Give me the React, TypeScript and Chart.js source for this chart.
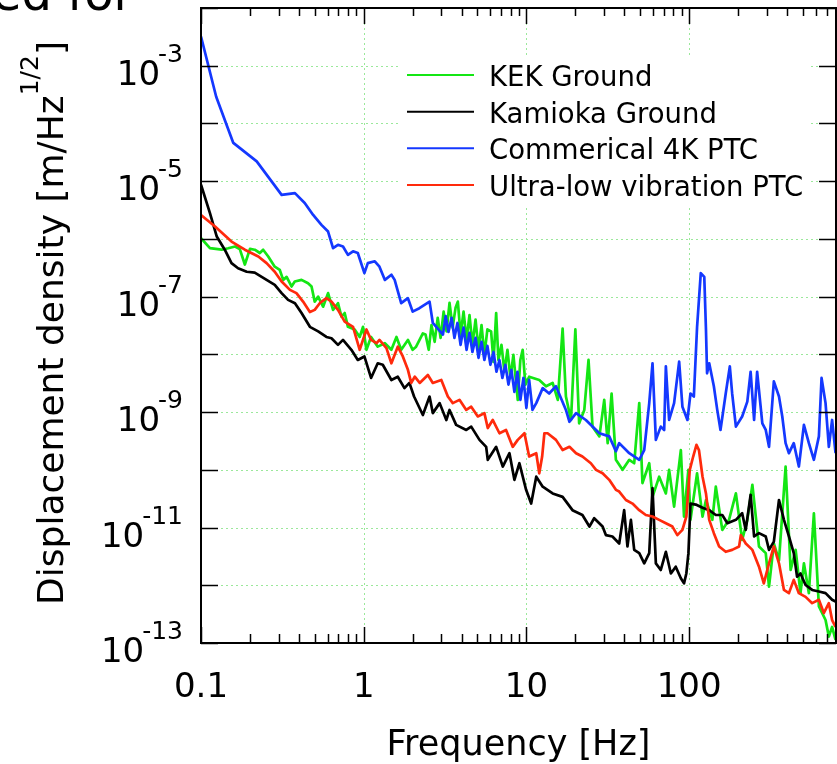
import { useEffect, useRef } from "react";
import { Chart, registerables } from "chart.js";

Chart.register(...registerables);

// ---------------- data ----------------
const seriesLabels = ["KEK Ground", "Kamioka Ground", "Commerical 4K PTC", "Ultra-low vibration PTC"];

const kekFreq = [0.1, 0.1135, 0.134, 0.147, 0.162, 0.173, 0.186, 0.2, 0.214, 0.23, 0.241, 0.259, 0.284, 0.305, 0.32, 0.336, 0.36, 0.377, 0.415, 0.455, 0.478, 0.5, 0.525, 0.563, 0.604, 0.648, 0.695, 0.73, 0.764, 0.8, 0.88, 0.945, 0.99, 1.04, 1.11, 1.22, 1.35, 1.48, 1.59, 1.7, 1.87, 2.0, 2.1, 2.31, 2.4, 2.51, 2.61, 2.73, 2.85, 2.97, 3.1, 3.23, 3.37, 3.52, 3.67, 3.79, 3.94, 4.11, 4.29, 4.47, 4.66, 4.87, 5.08, 5.3, 5.52, 5.76, 6.07, 6.28, 6.52, 6.73, 7.03, 7.33, 7.65, 7.98, 8.32, 8.85, 9.18, 9.49, 9.86, 10.4, 12.0, 13.2, 14.5, 15.6, 16.7, 17.5, 18.8, 20.0, 21.1, 22.7, 24.1, 25.5, 28.1, 30.1, 31.6, 33.4, 35.5, 39, 42.9, 46, 49.4, 51.7, 56.9, 59.6, 65.5, 72, 75.4, 80.9, 89, 93.1, 99, 102, 112, 121, 127, 139, 146, 160, 176, 194, 212, 228, 245, 269, 296, 310, 332, 357, 392, 421, 452, 484, 508, 545, 585, 628, 690, 723, 757, 795];
const kekDisp = [1.03e-6, 6.9e-7, 6.5e-7, 6.9e-7, 7.4e-7, 6.7e-7, 3.6e-7, 6.7e-7, 6.5e-7, 5.7e-7, 6.5e-7, 4.95e-7, 3.3e-7, 2.9e-7, 1.95e-7, 2.2e-7, 1.5e-7, 1.83e-7, 1.95e-7, 1.71e-7, 1.5e-7, 8.2e-8, 1.0e-7, 6.7e-8, 1.15e-7, 5.9e-8, 7.7e-8, 4.5e-8, 5.2e-8, 3.0e-8, 2.7e-8, 2.0e-8, 3.0e-8, 1.2e-8, 2.0e-8, 1.36e-8, 1.56e-8, 1.2e-8, 2.0e-8, 1.2e-8, 1.78e-8, 1.2e-8, 1.36e-8, 2.3e-8, 2.2e-8, 1.2e-8, 3.2e-8, 1.65e-8, 4.3e-8, 1.93e-8, 5.5e-8, 2.5e-8, 7.8e-8, 2.9e-8, 6.4e-8, 8.2e-8, 2.2e-8, 5.5e-8, 1.78e-8, 4.8e-8, 1.46e-8, 4.0e-8, 1.2e-8, 3.2e-8, 9.8e-9, 2.7e-8, 2.5e-8, 7.4e-9, 5.2e-8, 8.0e-9, 1.46e-8, 5.0e-9, 1.2e-8, 3.9e-9, 9.8e-9, 1.63e-9, 8.0e-9, 1.2e-8, 3.0e-9, 4.1e-9, 3.6e-9, 2.8e-9, 3.2e-9, 1.63e-9, 2.8e-8, 1.86e-9, 7.3e-10, 2.7e-8, 6.4e-10, 1.09e-9, 8.0e-9, 5.6e-10, 3.8e-10, 1.63e-9, 2.9e-10, 2.1e-9, 1.49e-10, 1.0e-10, 1.49e-10, 1.3e-10, 1.43e-9, 5.9e-11, 1.3e-10, 3.4e-11, 7.6e-11, 3.9e-11, 1.0e-10, 2.3e-11, 2.2e-10, 1.55e-11, 1.0e-10, 1.36e-11, 8.7e-11, 1.55e-11, 3.0e-11, 1.36e-11, 5.1e-11, 9.1e-12, 1.36e-11, 3.9e-11, 6.1e-12, 1.36e-11, 5.5e-11, 4.7e-12, 3.6e-12, 9.5e-13, 5.3e-12, 2.7e-12, 1.14e-10, 1.84e-12, 4.1e-12, 7.3e-13, 2.4e-12, 7.3e-13, 1.77e-11, 4.3e-13, 2.5e-13, 1.29e-13, 1.9e-13, 1.13e-13];

const kamFreq = [0.1, 0.1135, 0.125, 0.14, 0.154, 0.169, 0.191, 0.214, 0.236, 0.253, 0.284, 0.313, 0.343, 0.378, 0.415, 0.467, 0.525, 0.59, 0.634, 0.695, 0.746, 0.84, 0.92, 1.01, 1.11, 1.22, 1.31, 1.48, 1.62, 1.78, 1.91, 2.04, 2.31, 2.54, 2.66, 2.93, 3.22, 3.37, 3.7, 4.27, 4.58, 5.15, 5.66, 5.79, 6.52, 7.16, 7.87, 8.44, 9.06, 9.96, 10.7, 11.5, 12.6, 14.5, 16.7, 19.2, 22.1, 24.4, 26.1, 29.4, 30.8, 33.8, 37.2, 39.9, 41.8, 43.9, 46, 49.4, 53, 56.9, 59.6, 62.5, 67, 72, 77.3, 82.8, 89, 93.1, 96.2, 99.1, 102, 110, 121, 133, 146, 160, 172, 194, 212, 223, 239, 251, 269, 296, 310, 332, 357, 383, 411, 440, 461, 484, 520, 571, 628, 690, 757, 795];
const kamDisp = [8.7e-6, 2.8e-6, 1.1e-6, 6.5e-7, 3.8e-7, 3.1e-7, 2.7e-7, 2.6e-7, 2.2e-7, 1.95e-7, 1.6e-7, 1.15e-7, 8.8e-8, 7.7e-8, 5.2e-8, 3.0e-8, 2.5e-8, 2.0e-8, 1.9e-8, 1.46e-8, 1.78e-8, 1.2e-8, 8.0e-9, 9.2e-9, 3.9e-9, 7.0e-9, 6.6e-9, 3.6e-9, 4.1e-9, 2.6e-9, 3.2e-9, 1.86e-9, 8.9e-10, 1.86e-9, 9.6e-10, 1.43e-9, 7.3e-10, 1.09e-9, 6.0e-10, 4.9e-10, 5.6e-10, 3.3e-10, 2.5e-10, 1.49e-10, 2.5e-10, 1.14e-10, 1.94e-10, 6.7e-11, 1.3e-10, 4.5e-11, 2.6e-11, 7.6e-11, 5.1e-11, 3.9e-11, 3.4e-11, 2.0e-11, 1.65e-11, 1.04e-11, 1.45e-11, 1.04e-11, 7.4e-12, 7.0e-12, 5.3e-12, 2.0e-11, 4.7e-12, 1.36e-11, 4.1e-12, 3.6e-12, 2.4e-12, 3.6e-12, 4.8e-11, 2.4e-12, 1.84e-12, 3.8e-12, 1.6e-12, 2.1e-12, 1.32e-12, 1.08e-12, 1.6e-12, 3.6e-12, 2.6e-11, 2.5e-11, 2.2e-11, 2.0e-11, 1.65e-11, 1.65e-11, 1.19e-11, 1.36e-11, 1.77e-11, 9.1e-12, 3.7e-11, 7.0e-12, 8.0e-12, 7.0e-12, 4.1e-12, 5.7e-12, 3.0e-11, 1.36e-11, 7.0e-12, 3.6e-12, 1.41e-12, 1.6e-12, 1.01e-12, 8.3e-13, 7.8e-13, 7.3e-13, 5.6e-13, 5.2e-13];

const ptcFreq = [0.1, 0.124, 0.158, 0.22, 0.313, 0.378, 0.434, 0.489, 0.55, 0.604, 0.648, 0.695, 0.746, 0.8, 0.86, 0.92, 1.01, 1.06, 1.17, 1.25, 1.35, 1.48, 1.55, 1.7, 1.87, 2.0, 2.2, 2.54, 2.66, 3.07, 3.19, 3.32, 3.47, 3.61, 3.77, 3.94, 4.11, 4.29, 4.47, 4.66, 4.87, 5.08, 5.3, 5.52, 5.76, 6.01, 6.28, 6.55, 6.83, 7.12, 7.43, 7.76, 8.09, 8.44, 8.81, 9.19, 9.59, 10.0, 10.4, 10.9, 11.5, 12.6, 13.8, 15.2, 17.5, 18.4, 20.2, 23.2, 28.1, 32.3, 35.5, 37.2, 42.9, 49.4, 53, 56.9, 59.6, 62.5, 67, 70.3, 72, 75.4, 80.9, 86.9, 91, 97.7, 102, 107, 112, 118, 124, 127, 129, 133, 142, 149, 156, 168, 178, 184, 194, 212, 228, 239, 251, 262, 282, 296, 310, 332, 357, 374, 392, 411, 440, 473, 508, 545, 585, 628, 652, 690, 723, 757, 795];
const ptcDisp = [3.2e-3, 2.9e-4, 4.6e-5, 2.2e-5, 5.8e-6, 6.2e-6, 4.2e-6, 2.6e-6, 1.75e-6, 1.34e-6, 6.9e-7, 7.9e-7, 7.4e-7, 5.3e-7, 6.1e-7, 5.7e-7, 2.55e-7, 3.8e-7, 4.1e-7, 3.3e-7, 1.95e-7, 2.4e-7, 1.95e-7, 7.7e-8, 9.4e-8, 5.5e-8, 6.3e-8, 8.2e-8, 3.5e-8, 2.2e-8, 4.6e-8, 2.45e-8, 4.3e-8, 1.93e-8, 3.5e-8, 1.46e-8, 2.9e-8, 1.2e-8, 2.36e-8, 1.1e-8, 1.93e-8, 8.7e-9, 1.65e-8, 8.0e-9, 1.4e-8, 6.6e-9, 1.1e-8, 5.0e-9, 8.0e-9, 3.9e-9, 6.6e-9, 3.0e-9, 5.4e-9, 2.24e-9, 5.0e-9, 1.63e-9, 3.9e-9, 1.18e-9, 3.6e-9, 1.09e-9, 1.43e-9, 2.6e-9, 2.1e-9, 2.8e-9, 1.09e-9, 6.8e-10, 9.6e-10, 7.3e-10, 4.3e-10, 3.8e-10, 2.1e-10, 2.9e-10, 1.94e-10, 1.49e-10, 2.2e-10, 1.43e-9, 7.0e-9, 3.3e-10, 5.6e-10, 4.9e-10, 6.2e-9, 7.3e-10, 1.43e-9, 7.5e-9, 1.24e-9, 7.3e-10, 2.1e-9, 1.86e-9, 3.0e-8, 2.55e-7, 2.2e-7, 2.7e-8, 4.7e-9, 7.0e-9, 2.8e-9, 1.09e-9, 4.9e-10, 2.1e-9, 6.2e-9, 2.1e-9, 5.6e-10, 8.4e-10, 1.52e-9, 5.0e-9, 7.3e-10, 5.0e-9, 6.4e-10, 4.9e-10, 2.5e-10, 3.4e-9, 1.86e-9, 8.4e-10, 2.9e-10, 1.94e-10, 2.9e-10, 1.14e-10, 6.0e-10, 2.9e-10, 1.49e-10, 3.8e-10, 3.9e-9, 1.43e-9, 2.5e-10, 7.3e-10, 1.94e-10];

const ulvFreq = [0.1, 0.122, 0.154, 0.186, 0.225, 0.253, 0.284, 0.313, 0.352, 0.386, 0.424, 0.467, 0.5, 0.537, 0.59, 0.634, 0.695, 0.764, 0.86, 0.945, 1.04, 1.11, 1.2, 1.25, 1.38, 1.48, 1.62, 1.74, 1.87, 1.96, 2.06, 2.21, 2.48, 2.66, 3.0, 3.29, 3.53, 3.88, 4.27, 4.58, 5.03, 5.52, 5.79, 6.21, 6.83, 7.5, 8.24, 8.85, 9.73, 10.4, 11.5, 12.0, 12.5, 12.9, 13.5, 15.2, 16.7, 18.4, 20.2, 22.1, 24.9, 26.8, 29.4, 32.3, 35.5, 37.2, 40.9, 44.9, 49.4, 54.2, 59.6, 65.5, 72, 79, 84.7, 91, 96.2, 101, 106, 111, 115, 121, 127, 133, 142, 153, 168, 184, 203, 208, 223, 245, 269, 288, 310, 332, 357, 383, 411, 440, 473, 520, 571, 628, 673, 723, 757, 795];
const ulvDisp = [2.6e-6, 1.64e-6, 9.0e-7, 6.5e-7, 4.95e-7, 3.8e-7, 2.7e-7, 1.83e-7, 1.31e-7, 1.15e-7, 8.2e-8, 5.4e-8, 5.9e-8, 7.7e-8, 9.4e-8, 8.2e-8, 5.9e-8, 3.7e-8, 3.0e-8, 1.2e-8, 2.7e-8, 1.78e-8, 1.56e-8, 1.78e-8, 1.28e-8, 7.0e-9, 1.36e-8, 9.2e-9, 5.4e-9, 3.2e-9, 4.1e-9, 3.2e-9, 4.4e-9, 3.2e-9, 3.6e-9, 1.86e-9, 1.43e-9, 1.63e-9, 1.09e-9, 1.24e-9, 8.4e-10, 9.6e-10, 5.3e-10, 7.3e-10, 4.3e-10, 4.9e-10, 2.5e-10, 3.3e-10, 4.3e-10, 1.7e-10, 1.94e-10, 8.7e-11, 1.7e-10, 4.3e-10, 4.3e-10, 3.3e-10, 2.2e-10, 2.5e-10, 1.94e-10, 1.7e-10, 1.3e-10, 1.0e-10, 8.7e-11, 6.7e-11, 4.5e-11, 4.2e-11, 3.0e-11, 2.6e-11, 2.0e-11, 1.65e-11, 1.55e-11, 1.36e-11, 1.19e-11, 1.04e-11, 7.4e-12, 9.1e-12, 1.55e-11, 1.0e-10, 1.7e-10, 2.7e-10, 2.2e-10, 7.6e-11, 3.9e-11, 1.36e-11, 8.0e-12, 4.7e-12, 3.8e-12, 4.1e-12, 4.7e-12, 7.4e-12, 5.3e-12, 4.1e-12, 2.1e-12, 1.08e-12, 2.4e-12, 4.7e-12, 2.4e-12, 8.3e-13, 7.3e-13, 1.24e-12, 7.3e-13, 6.3e-13, 4.9e-13, 5.6e-13, 3.3e-13, 4.9e-13, 2.5e-13, 1.9e-13];

// axis ticks / labels
const xMin = 0.1;
const xMax = 800;
const yMin = 1e-13;
const yMax = 1e-2;
const xMajorTicks = [0.1, 1, 10, 100];
const xTickLabels = ["0.1", "1", "10", "100"];
const xMinorMultipliers = [2, 3, 4, 5, 6, 7, 8, 9];
const yDecadeTicks = [1e-13, 1e-12, 1e-11, 1e-10, 1e-9, 1e-8, 1e-7, 1e-6, 1e-5, 1e-4, 1e-3, 1e-2];
const yLabelValues = [1e-3, 1e-5, 1e-7, 1e-9, 1e-11, 1e-13];
const yLabelExponents = ["-3", "-5", "-7", "-9", "-11", "-13"];
const xGridValues = [1, 10, 100];
const yGridValues = [1e-12, 1e-11, 1e-10, 1e-9, 1e-8, 1e-7, 1e-6, 1e-5, 1e-4, 1e-3];

// ---------------- styles ----------------
const FONT = '"DejaVu Sans", "Liberation Sans", sans-serif';
const GREEN = "#14e614";
const BLACK = "#000000";
const BLUE = "#1438ff";
const RED = "#ff2a0c";
const GRID = "#9be89b";

const decorPlugin = {
  id: "decor",
  beforeDatasetsDraw(chart: any) {
    const { ctx, chartArea: a } = chart;
    const xs = chart.scales.x;
    const ys = chart.scales.y;
    ctx.save();
    ctx.strokeStyle = GRID;
    ctx.lineWidth = 1;
    ctx.setLineDash([2, 3]);
    ctx.beginPath();
    xGridValues.forEach((v) => {
      const p = Math.round(xs.getPixelForValue(v)) + 0.5;
      ctx.moveTo(p, a.top);
      ctx.lineTo(p, a.bottom);
    });
    yGridValues.forEach((v) => {
      const p = Math.round(ys.getPixelForValue(v)) + 0.5;
      ctx.moveTo(a.left, p);
      ctx.lineTo(a.right, p);
    });
    ctx.stroke();
    ctx.setLineDash([]);
    // legend background
    ctx.fillStyle = "#ffffff";
    ctx.fillRect(400, 55, 408, 150);
    ctx.restore();
  },
  afterDatasetsDraw(chart: any) {
    const { ctx, chartArea: a } = chart;
    const xs = chart.scales.x;
    const ys = chart.scales.y;
    ctx.save();
    // frame
    ctx.strokeStyle = "#000";
    ctx.lineWidth = 2;
    ctx.strokeRect(a.left, a.top, a.right - a.left, a.bottom - a.top);
    // ticks
    ctx.lineWidth = 1.5;
    ctx.beginPath();
    yDecadeTicks.forEach((v) => {
      const p = Math.round(ys.getPixelForValue(v)) + 0.5;
      ctx.moveTo(a.left, p);
      ctx.lineTo(a.left + 17, p);
      ctx.moveTo(a.right, p);
      ctx.lineTo(a.right - 17, p);
    });
    xMajorTicks.forEach((d) => {
      const p = Math.round(xs.getPixelForValue(d)) + 0.5;
      ctx.moveTo(p, a.bottom);
      ctx.lineTo(p, a.bottom - 16);
      ctx.moveTo(p, a.top);
      ctx.lineTo(p, a.top + 16);
      xMinorMultipliers.forEach((m) => {
        const v = d * m;
        if (v > xMax) return;
        const q = Math.round(xs.getPixelForValue(v)) + 0.5;
        ctx.moveTo(q, a.bottom);
        ctx.lineTo(q, a.bottom - 9);
        ctx.moveTo(q, a.top);
        ctx.lineTo(q, a.top + 8);
      });
    });
    ctx.stroke();

    ctx.fillStyle = "#000";
    // y tick labels: 10^n
    ctx.textAlign = "right";
    ctx.textBaseline = "alphabetic";
    yLabelValues.forEach((v, i) => {
      const p = ys.getPixelForValue(v);
      ctx.font = `25px ${FONT}`;
      const sup = yLabelExponents[i];
      const supW = ctx.measureText(sup).width;
      ctx.fillText(sup, 183, p - 4);
      ctx.font = `34px ${FONT}`;
      ctx.fillText("10", 183 - supW + 2, p + 19);
    });
    // x tick labels
    ctx.textAlign = "center";
    ctx.font = `34px ${FONT}`;
    xMajorTicks.forEach((v, i) => {
      ctx.fillText(xTickLabels[i], xs.getPixelForValue(v), 697);
    });
    // x title
    ctx.font = `35px ${FONT}`;
    ctx.fillText("Frequency [Hz]", (a.left + a.right) / 2, 755);

    // y title (rotated) with superscript
    ctx.save();
    ctx.translate(63, 323);
    ctx.rotate(-Math.PI / 2);
    ctx.textAlign = "left";
    const main = "Displacement density [m/Hz";
    const supT = "1/2";
    const close = "]";
    ctx.font = `36px ${FONT}`;
    const wMain = ctx.measureText(main).width;
    const wClose = ctx.measureText(close).width;
    ctx.font = `25px ${FONT}`;
    const wSup = ctx.measureText(supT).width;
    const total = wMain + wSup + wClose;
    let x0 = -total / 2;
    ctx.font = `36px ${FONT}`;
    ctx.fillText(main, x0, 0);
    x0 += wMain;
    ctx.font = `25px ${FONT}`;
    ctx.fillText(supT, x0, -25);
    x0 += wSup;
    ctx.font = `36px ${FONT}`;
    ctx.fillText(close, x0, 0);
    ctx.restore();

    // legend
    const rows = [75, 111.7, 148.3, 185];
    ctx.font = `27.5px ${FONT}`;
    ctx.textAlign = "left";
    seriesLabels.forEach((label, i) => {
      const ds = chart.data.datasets[i];
      ctx.strokeStyle = ds.borderColor;
      ctx.lineWidth = 2;
      ctx.beginPath();
      ctx.moveTo(407, rows[i]);
      ctx.lineTo(474, rows[i]);
      ctx.stroke();
      ctx.fillStyle = "#000";
      ctx.fillText(label, 489, rows[i] + 11);
    });

    // clipped heading text from the slide above
    ctx.font = `48px ${FONT}`;
    ctx.textAlign = "left";
    ctx.fillText("ed for", -8, 10);
    ctx.restore();
  },
};

const toPoints = (xs: number[], ys: number[]) => xs.map((x, i) => ({ x, y: ys[i] }));

export default function App() {
  const ref = useRef<HTMLCanvasElement | null>(null);
  useEffect(() => {
    if (!ref.current) return;
    const common = { pointRadius: 0, borderWidth: 2.7, tension: 0, fill: false, borderJoinStyle: "round" as const };
    const chart = new Chart(ref.current, {
      type: "line",
      data: {
        datasets: [
          { label: seriesLabels[0], data: toPoints(kekFreq, kekDisp), borderColor: GREEN, backgroundColor: GREEN, order: 4, ...common },
          { label: seriesLabels[1], data: toPoints(kamFreq, kamDisp), borderColor: BLACK, backgroundColor: BLACK, order: 3, ...common },
          { label: seriesLabels[2], data: toPoints(ptcFreq, ptcDisp), borderColor: BLUE, backgroundColor: BLUE, order: 2, ...common },
          { label: seriesLabels[3], data: toPoints(ulvFreq, ulvDisp), borderColor: RED, backgroundColor: RED, order: 1, ...common },
        ],
      },
      options: {
        animation: false,
        responsive: true,
        maintainAspectRatio: false,
        layout: { padding: { left: 201, top: 8, right: 1, bottom: 121 } },
        plugins: { legend: { display: false }, tooltip: { enabled: false } },
        events: [],
        scales: {
          x: { type: "logarithmic", min: xMin, max: xMax, display: false },
          y: { type: "logarithmic", min: yMin, max: yMax, display: false },
        },
      },
      plugins: [decorPlugin],
    });
    return () => chart.destroy();
  }, []);
  return (
    <div style={{ position: "absolute", left: 0, top: 0, width: 837, height: 764, background: "#fff" }}>
      <canvas ref={ref} />
    </div>
  );
}
